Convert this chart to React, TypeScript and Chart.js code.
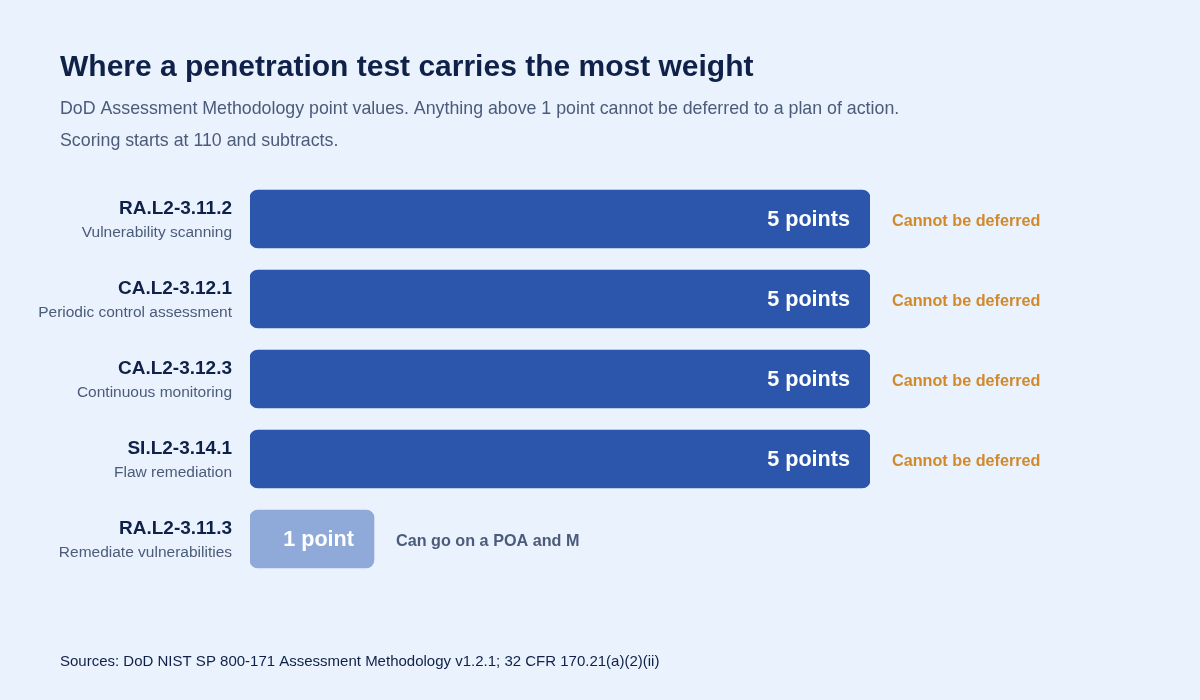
import { useEffect, useRef } from "react";
import Chart from "chart.js/auto";

const controls = ["RA.L2-3.11.2", "CA.L2-3.12.1", "CA.L2-3.12.3", "SI.L2-3.14.1", "RA.L2-3.11.3"];
const descriptions = [
  "Vulnerability scanning",
  "Periodic control assessment",
  "Continuous monitoring",
  "Flaw remediation",
  "Remediate vulnerabilities",
];
const points = [5, 5, 5, 5, 1];
const notes = [
  "Cannot be deferred",
  "Cannot be deferred",
  "Cannot be deferred",
  "Cannot be deferred",
  "Can go on a POA and M",
];

const FONT = "'Liberation Sans', Arial, Helvetica, sans-serif";
const NAVY = "#0f2148";
const MUTED = "#4b5b7a";

const textPlugin = {
  id: "textPlugin",
  afterDatasetsDraw(chart: any) {
    const { ctx } = chart;
    const meta = chart.getDatasetMeta(0);
    ctx.save();

    // title block
    ctx.textAlign = "left";
    ctx.textBaseline = "alphabetic";
    ctx.fillStyle = NAVY;
    ctx.font = `bold 30px ${FONT}`;
    ctx.fillText("Where a penetration test carries the most weight", 60, 76);
    ctx.fillStyle = MUTED;
    ctx.font = `17.8px ${FONT}`;
    ctx.fillText(
      "DoD Assessment Methodology point values. Anything above 1 point cannot be deferred to a plan of action.",
      60,
      114
    );
    ctx.fillText("Scoring starts at 110 and subtracts.", 60, 146);

    meta.data.forEach((bar: any, i: number) => {
      const y = bar.y;
      // row labels
      ctx.textAlign = "right";
      ctx.fillStyle = NAVY;
      ctx.font = `bold 19px ${FONT}`;
      ctx.fillText(controls[i], 232, y - 5);
      ctx.fillStyle = MUTED;
      ctx.font = `15.5px ${FONT}`;
      ctx.fillText(descriptions[i], 232, y + 18);

      // value inside bar
      ctx.fillStyle = "#ffffff";
      ctx.font = `bold 21.6px ${FONT}`;
      ctx.fillText(points[i] === 1 ? "1 point" : `${points[i]} points`, bar.x - 20, y + 7);

      // note after bar
      ctx.textAlign = "left";
      ctx.font = `bold 16.2px ${FONT}`;
      ctx.fillStyle = points[i] > 1 ? "#d08a2b" : MUTED;
      ctx.fillText(notes[i], bar.x + 22, y + 7);
    });

    ctx.textAlign = "left";
    ctx.fillStyle = NAVY;
    ctx.font = `15px ${FONT}`;
    ctx.fillText("Sources: DoD NIST SP 800-171 Assessment Methodology v1.2.1; 32 CFR 170.21(a)(2)(ii)", 60, 666);
    ctx.restore();
  },
};

export default function App() {
  const canvasRef = useRef<HTMLCanvasElement | null>(null);

  useEffect(() => {
    document.body.style.margin = "0";
    document.body.style.background = "#eaf2fe";
    if (!canvasRef.current) return;

    const chart = new Chart(canvasRef.current, {
      type: "bar",
      data: {
        labels: controls,
        datasets: [
          {
            data: points,
            backgroundColor: points.map((p) => (p > 1 ? "#2b56ab" : "#8faad9")),
            borderRadius: 8,
            borderSkipped: false,
            barThickness: 58,
          },
        ],
      },
      options: {
        indexAxis: "y",
        animation: false,
        responsive: false,
        devicePixelRatio: 1,
        layout: { padding: { left: 250, right: 330, top: 179, bottom: 121 } },
        scales: {
          x: { display: false, min: 0, max: 5 },
          y: { display: false },
        },
        plugins: {
          legend: { display: false },
          tooltip: { enabled: false },
          title: { display: false },
        },
      },
      plugins: [textPlugin],
    });

    return () => chart.destroy();
  }, []);

  return (
    <div style={{ width: 1200, height: 700, background: "#eaf2fe" }}>
      <canvas ref={canvasRef} width={1200} height={700}></canvas>
    </div>
  );
}
